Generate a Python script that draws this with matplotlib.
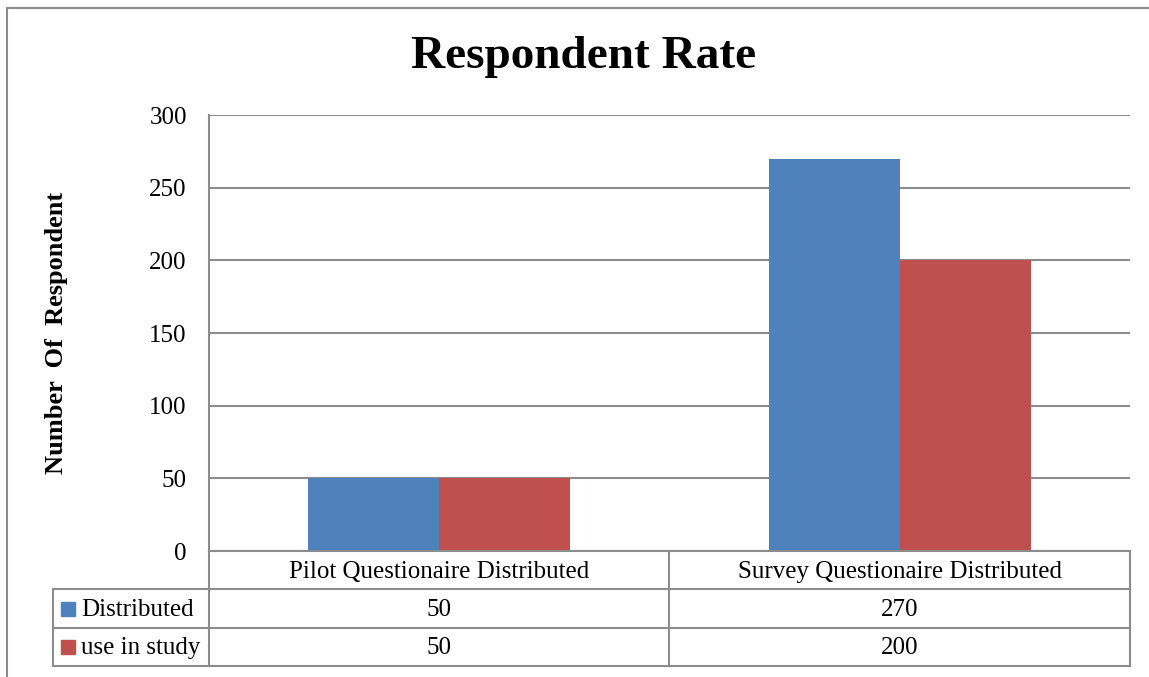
import numpy as np
import matplotlib.pyplot as plt
from matplotlib.lines import Line2D
from matplotlib.patches import Rectangle

# data
categories = ['Pilot Questionaire Distributed', 'Survey Questionaire Distributed']
series_names = ['Distributed', 'use in study']
distributed = [50, 270]
use_in_study = [50, 200]
yticks = [0, 50, 100, 150, 200, 250, 300]

colors = ['#4F81BD', '#C0504D']
grid_c = '#8C8C8C'
font = ['Liberation Serif', 'DejaVu Serif']
fs = 18

W, H = 1149, 677
fig = plt.figure(figsize=(W / 100, H / 100), dpi=100)

def fx(px):
    return px / W

def fy(py):
    return 1 - py / H

# plot area in pixels
L, R, T, B = 209, 1130, 115, 551
ax = fig.add_axes([fx(L), fy(B), fx(R) - fx(L), fy(T) - fy(B)])

x = np.arange(len(categories))
bw = 0.285
ax.bar(x - bw / 2, distributed, bw, color=colors[0], zorder=3)
ax.bar(x + bw / 2, use_in_study, bw, color=colors[1], zorder=3)

ax.set_xlim(-0.5, len(categories) - 0.5)
ax.set_ylim(0, 300)
ax.set_yticks(yticks)
ax.set_yticklabels([str(t) for t in yticks], fontsize=fs, family=font)
ax.tick_params(axis='y', length=0, pad=16)
ax.set_xticks([])
ax.yaxis.grid(True, color=grid_c, linewidth=1.5, zorder=0)
for s in ['top', 'right', 'bottom']:
    ax.spines[s].set_visible(False)
ax.spines['left'].set_color(grid_c)
ax.spines['left'].set_linewidth(1.5)

fig.text(fx(584), fy(57), 'Respondent Rate', ha='center', va='center',
         fontsize=34, fontweight='bold', family=font)
fig.text(fx(57), fy(333), 'Number  Of  Respondent', ha='center', va='center',
         rotation=90, fontsize=19, fontweight='bold', family=font)

# outer chart border
fig.add_artist(Line2D([fx(7), fx(W)], [fy(8), fy(8)], color=grid_c, lw=1.5))
fig.add_artist(Line2D([fx(7), fx(7)], [fy(8), fy(H)], color=grid_c, lw=1.5))

# data table
rows_y = [551, 589, 628, 666]
col_x = [53, 209, 669, 1130]
lw = 1.5
# horizontal lines
fig.add_artist(Line2D([fx(L), fx(R)], [fy(rows_y[0])] * 2, color=grid_c, lw=lw))
for yy in rows_y[1:]:
    fig.add_artist(Line2D([fx(col_x[0]), fx(R)], [fy(yy)] * 2, color=grid_c, lw=lw))
# vertical lines
fig.add_artist(Line2D([fx(col_x[0])] * 2, [fy(rows_y[1]), fy(rows_y[3])], color=grid_c, lw=lw))
for xx in col_x[1:]:
    fig.add_artist(Line2D([fx(xx)] * 2, [fy(rows_y[0]), fy(rows_y[3])], color=grid_c, lw=lw))

def data_x(v):
    # data x -> figure fraction
    disp = ax.transData.transform((v, 0))
    return fig.transFigure.inverted().transform(disp)[0]

for i, cat in enumerate(categories):
    fig.text(data_x(i), fy((rows_y[0] + rows_y[1]) / 2 + 2), cat, ha='center',
             va='center', fontsize=fs, family=font)
for r, vals in enumerate([distributed, use_in_study]):
    ymid = (rows_y[r + 1] + rows_y[r + 2]) / 2
    for i, v in enumerate(vals):
        fig.text(data_x(i), fy(ymid + 1), str(v), ha='center', va='center',
                 fontsize=fs, family=font)
    fig.add_artist(Rectangle((fx(61), fy(ymid + 7)), fx(14), 14 / H,
                             color=colors[r], transform=fig.transFigure))
    fig.text(fx(81), fy(ymid + 1), series_names[r], ha='left', va='center',
             fontsize=fs, family=font)

plt.savefig('out.png', dpi=100)
